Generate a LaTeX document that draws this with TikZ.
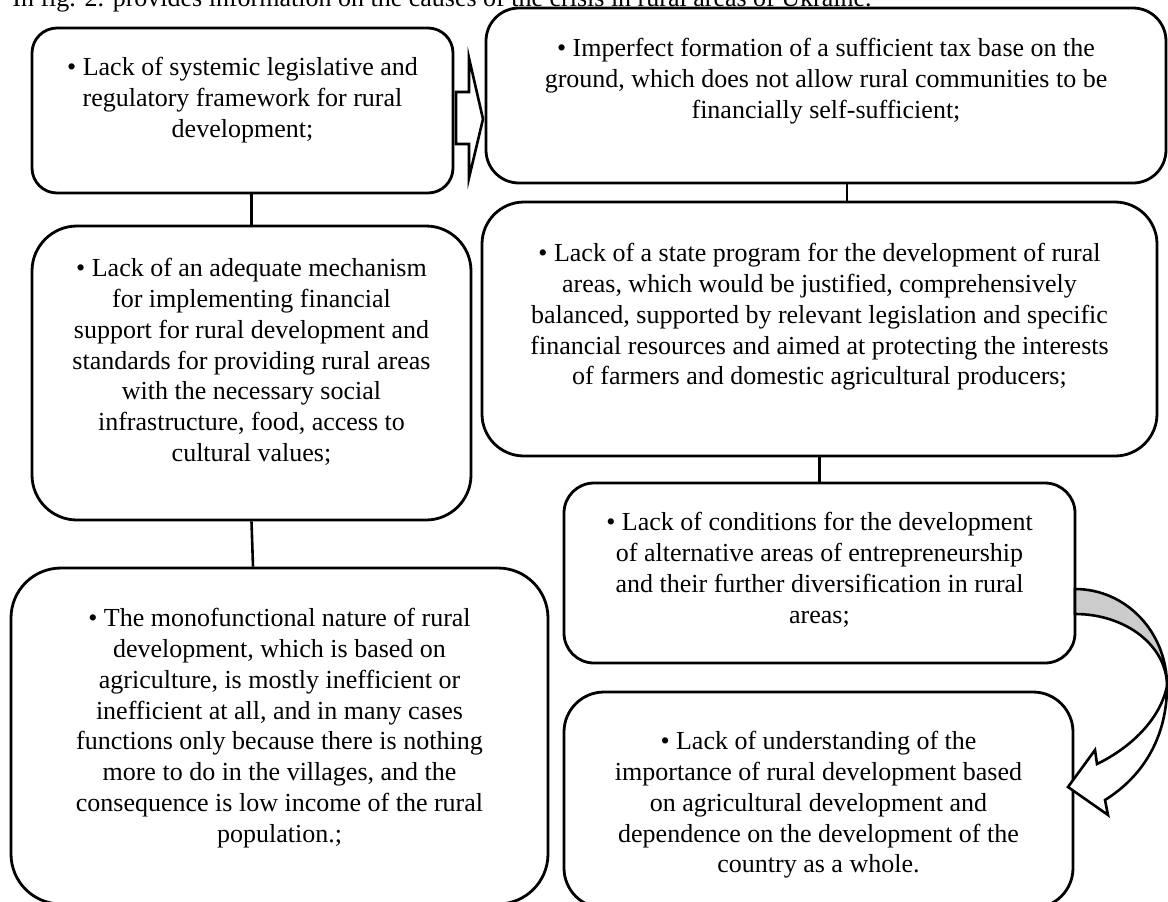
\documentclass[tikz,border=0pt]{standalone}
\usepackage{fontspec}
\setmainfont{Liberation Serif}
\usetikzlibrary{calc}
\definecolor{shade}{RGB}{204,204,204}
\begin{document}
\begin{tikzpicture}[x=0.5pt,y=-0.5pt,
  box/.style={draw, line width=1.4pt, fill=white, inner sep=0pt},
  txt/.style={anchor=north, align=center, inner sep=0pt, font=\fontsize{13}{15.4}\selectfont},
  link/.style={draw, line width=1.3pt},
  outline/.style={draw, line width=1.3pt, line join=miter},
  ]
\useasboundingbox (0,0) rectangle (1168,901);
\clip (0,0) rectangle (1168,901);

% heading line
\node[anchor=base west, inner sep=0pt, font=\fontsize{13}{15.4}\selectfont] (title) at (12,6)
  {In fig. 2. provides information on the causes of the crisis in rural areas of Ukraine.};

% boxes
\node[box, rounded corners=12.5pt, minimum width=210.5pt, minimum height=82.5pt] (A) at (242.5,110.5) {};
\node[box, rounded corners=16.5pt, minimum width=340pt, minimum height=87.5pt] (B) at (826,95.5) {};
\node[box, rounded corners=22.5pt, minimum width=219.5pt, minimum height=147pt] (C) at (251.5,373) {};
\node[box, rounded corners=21pt, minimum width=337.5pt, minimum height=127pt] (D) at (819.5,329) {};
\node[box, rounded corners=25pt, minimum width=268.5pt, minimum height=168pt] (E) at (279.5,736) {};
\node[box, rounded corners=15pt, minimum width=255.5pt, minimum height=90pt] (F) at (819.5,573) {};
\node[box, rounded corners=20pt, minimum width=254.5pt, minimum height=108pt] (G) at (818.5,800) {};

% texts
\node[txt] (At) at (242.5,57) {• Lack of systemic legislative and\\ regulatory framework for rural\\ development;};
\node[txt] (Bt) at (826,38) {• Imperfect formation of a sufficient tax base on the\\ ground, which does not allow rural communities to be\\ financially self-sufficient;};
\node[txt] (Ct) at (251.5,258) {• Lack of an adequate mechanism\\ for implementing financial\\ support for rural development and\\ standards for providing rural areas\\ with the necessary social\\ infrastructure, food, access to\\ cultural values;};
\node[txt] (Dt) at (819.5,243) {• Lack of a state program for the development of rural\\ areas, which would be justified, comprehensively\\ balanced, supported by relevant legislation and specific\\ financial resources and aimed at protecting the interests\\ of farmers and domestic agricultural producers;};
\node[txt] (Et) at (279.5,608) {• The monofunctional nature of rural\\ development, which is based on\\ agriculture, is mostly inefficient or\\ inefficient at all, and in many cases\\ functions only because there is nothing\\ more to do in the villages, and the\\ consequence is low income of the rural\\ population.;};
\node[txt] (Ft) at (819.5,512) {• Lack of conditions for the development\\ of alternative areas of entrepreneurship\\ and their further diversification in rural\\ areas;};
\node[txt] (Gt) at (818.5,731) {• Lack of understanding of the\\ importance of rural development based\\ on agricultural development and\\ dependence on the development of the\\ country as a whole.};

% connecting lines
\coordinate (bd) at ($(B.south)+(21,0)$);
\draw[link] (C.north) -- (C.north |- A.south);
\draw[link] (C.south) -- ($(E.north)+(-26.5,0)$);
\draw[link] (bd) -- (bd |- D.north);
\draw[link] (D.south) -- (F.north);

% hollow block arrow from A to B
\draw[outline, fill=white] (456,92) -- (469,92) -- (469,58) -- (483,119) -- (469,178)
  -- (469,144) -- (456,144) -- cycle;

% curved ribbon arrow from F to G: shaded back face, then the white front with its head
\draw[outline, fill=shade] (1075,589) .. controls (1126,589) and (1167,632) .. (1167,686)
  .. controls (1167,646) and (1126,614) .. (1075,614) -- cycle;
\draw[outline, fill=white] (1167,686) .. controls (1167,735) and (1145,775) .. (1105,800)
  -- (1108,815) -- (1068,787) -- (1095,750) -- (1097,764)
  .. controls (1130,748) and (1160,720) .. (1167,686) -- cycle;
\end{tikzpicture}
\end{document}
